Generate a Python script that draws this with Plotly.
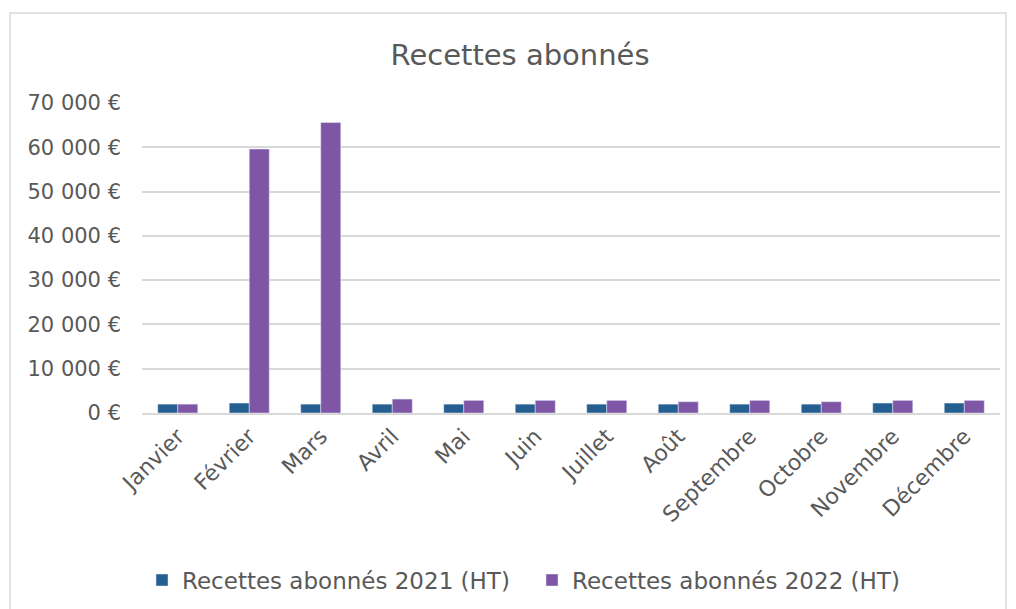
import plotly.graph_objects as go

# Données
mois = ["Janvier", "Février", "Mars", "Avril", "Mai", "Juin", "Juillet",
        "Août", "Septembre", "Octobre", "Novembre", "Décembre"]
recettes_2021 = [2000, 2250, 2000, 2000, 2000, 2000, 2000, 2000, 2000, 2000, 2250, 2250]
recettes_2022 = [2000, 59600, 65600, 3150, 2850, 2850, 2850, 2550, 2850, 2550, 2850, 2850]

gris = "#595959"
police = "DejaVu Sans"

fig = go.Figure()
fig.add_trace(go.Bar(x=mois, y=recettes_2021, name="Recettes abonnés 2021 (HT)",
                     marker=dict(color="#255E91")))
fig.add_trace(go.Bar(x=mois, y=recettes_2022, name="Recettes abonnés 2022 (HT)",
                     marker=dict(color="#7F56A6")))

fig.update_layout(
    width=1016, height=609,
    margin=dict(l=134, r=24, t=95, b=204),
    plot_bgcolor="white", paper_bgcolor="white",
    font=dict(family=police, color=gris, size=18),
    separators=", ",
    barmode="group", bargap=0.44, bargroupgap=0,
    title=dict(text="Recettes abonnés", x=0.504, xanchor="center", y=0.923, yanchor="middle",
               font=dict(size=29, color=gris, family=police)),
    legend=dict(orientation="h", x=0.0, xanchor="left", y=-0.539, yanchor="middle",
                font=dict(size=23, color=gris), traceorder="normal", itemwidth=30,
                entrywidth=345, entrywidthmode="pixels"),
    showlegend=True,
)
fig.update_yaxes(range=[0, 70000], dtick=10000, tickformat=",d", ticksuffix=" €",
                 gridcolor="#D9D9D9", gridwidth=1.5, zeroline=False, showline=False,
                 ticks="", ticklabelstandoff=20, tickfont=dict(size=21))
fig.update_xaxes(tickangle=-45, showline=True, linecolor="#D9D9D9", linewidth=1.5,
                 ticks="", tickfont=dict(size=22))

# cadre du graphique
fig.add_shape(type="rect", xref="paper", yref="paper",
              x0=-0.1538, x1=1.007, y0=-0.68, y1=1.29,
              line=dict(color="#D9D9D9", width=1.5), fillcolor="rgba(0,0,0,0)")

fig.write_html("out.html")
